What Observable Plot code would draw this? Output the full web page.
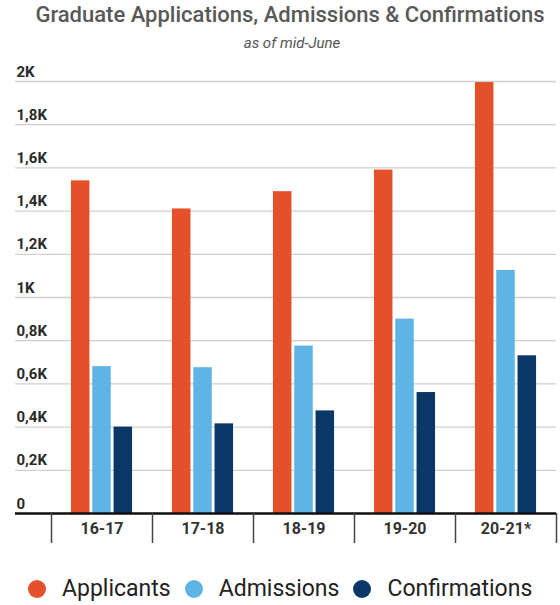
<!DOCTYPE html>
<html>
<head>
<meta charset="utf-8">
<script src="https://cdn.jsdelivr.net/npm/d3@7"></script>
<script src="https://cdn.jsdelivr.net/npm/@observablehq/plot@0.6"></script>
<style>
  html, body { margin: 0; padding: 0; background: #fff; }
  body { width: 560px; height: 605px; position: relative; overflow: hidden; font-family: Roboto, "Noto Sans", sans-serif; }
  #title { position: absolute; top: 3px; left: 0; width: 580px; text-align: center; font-size: 22px; line-height: 24px; font-weight: 500; color: #585858; }
  #subtitle { position: absolute; top: 35px; left: 0; width: 584px; text-align: center; font-size: 15px; line-height: 17px; font-style: italic; color: #555; }
  #chart { position: absolute; top: 55px; left: 0; }
  #legend { position: absolute; top: 576px; left: 28px; display: flex; align-items: center; font-size: 23px; line-height: 26px; color: #222; white-space: nowrap; }
  .item { display: flex; align-items: center; margin-right: 14px; }
  .swatch { width: 18px; height: 18px; border-radius: 50%; margin-right: 16px; flex: none; }
</style>
</head>
<body>
<div id="title">Graduate Applications, Admissions &amp; Confirmations</div>
<div id="subtitle">as of mid-June</div>
<div id="chart"></div>
<div id="legend"></div>
<script>
// Academic years and the three series per year
const years = ["16-17", "17-18", "18-19", "19-20", "20-21*"];
const applicants = [1540, 1410, 1490, 1590, 1995];
const admissions = [680, 675, 775, 900, 1125];
const confirmations = [400, 415, 475, 560, 730];
const seriesNames = ["Applicants", "Admissions", "Confirmations"];
const seriesColors = ["#E4502A", "#5EB4E5", "#0A3766"];
const yTicks = [0, 200, 400, 600, 800, 1000, 1200, 1400, 1600, 1800, 2000];

const seriesValues = [applicants, admissions, confirmations];
const rows = years.flatMap((year, i) =>
  seriesNames.map((series, s) => ({year, series, value: seriesValues[s][i]}))
);

const width = 560;
const xRange = [51, 556];
const step = (xRange[1] - xRange[0]) / years.length;
const barWidth = 18.5;
const barGap = 2.8;
const inset = (step - barWidth) / 2;

const fmtK = d => d === 0 ? "0" : String(d / 1000).replace(".", ",") + "K";

// one bar mark per series, shifted sideways within each year's band
const barMarks = seriesNames.map((name, s) =>
  Plot.barY(rows.filter(r => r.series === name), {
    x: "year",
    y: "value",
    fill: seriesColors[s],
    insetLeft: inset,
    insetRight: inset,
    dx: (s - 1) * (barWidth + barGap)
  })
);

const chart = Plot.plot({
  width,
  height: 498,
  marginTop: 26,
  marginBottom: 40,
  marginLeft: 15,
  marginRight: 4,
  style: {fontFamily: "Roboto, 'Noto Sans', sans-serif", background: "#fff"},
  x: {domain: years, range: xRange, padding: 0, axis: null},
  y: {domain: [0, 2000], axis: null},
  marks: [
    Plot.gridY({ticks: yTicks, stroke: "#cfcfcf", strokeOpacity: 1, strokeWidth: 1.3}),
    Plot.axisY({
      ticks: yTicks,
      tickFormat: fmtK,
      tickSize: 0,
      tickPadding: 0,
      textAnchor: "start",
      lineAnchor: "bottom",
      dx: 1,
      dy: -5,
      fontSize: 15,
      fontWeight: "bold",
      fill: "#2a2a2a",
      label: null
    }),
    ...barMarks,
    Plot.ruleY([0], {stroke: "#111", strokeWidth: 2.6}),
    // category separators below the baseline
    Plot.axisX({
      tickSize: 30,
      tickFormat: () => "",
      dx: -step / 2,
      stroke: "#444",
      strokeWidth: 1.5,
      label: null
    }),
    Plot.axisX({
      ticks: [years[years.length - 1]],
      tickSize: 30,
      tickFormat: () => "",
      dx: step / 2,
      stroke: "#444",
      strokeWidth: 1.5,
      label: null
    }),
    Plot.axisX({
      tickSize: 0,
      tickPadding: 9,
      fontSize: 16,
      fontWeight: "bold",
      fill: "#333",
      label: null
    })
  ]
});
document.getElementById("chart").append(chart);

const legend = document.getElementById("legend");
seriesNames.forEach((name, s) => {
  const item = document.createElement("div");
  item.className = "item";
  const sw = document.createElement("span");
  sw.className = "swatch";
  sw.style.background = seriesColors[s];
  const label = document.createElement("span");
  label.textContent = name;
  item.append(sw, label);
  legend.append(item);
});
</script>
</body>
</html>
